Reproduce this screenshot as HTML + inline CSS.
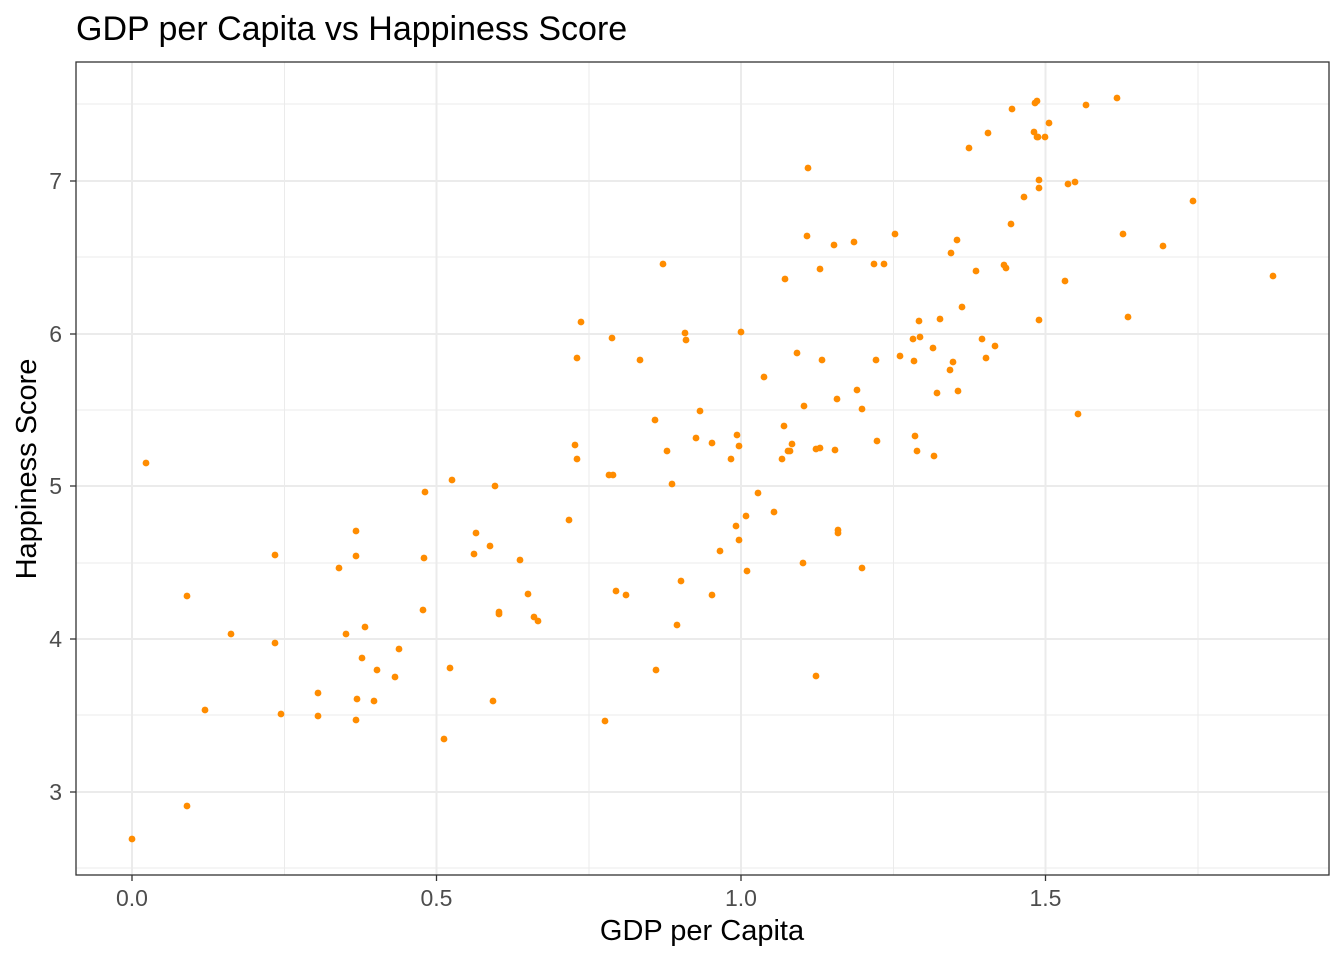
<!DOCTYPE html>
<html><head><meta charset="utf-8"><style>body{margin:0;background:#fff}svg text{font-family:"Liberation Sans",Arial,sans-serif}</style></head><body>
<svg width="1344" height="960" xmlns="http://www.w3.org/2000/svg">
<rect width="1344" height="960" fill="#fff"/>
<text x="76" y="40" font-size="34" fill="#000">GDP per Capita vs Happiness Score</text>
<g stroke="#ebebeb" stroke-width="1">
<line x1="284.5" y1="62" x2="284.5" y2="875"/><line x1="589" y1="62" x2="589" y2="875"/><line x1="893.5" y1="62" x2="893.5" y2="875"/><line x1="1198" y1="62" x2="1198" y2="875"/>
<line x1="76" y1="868" x2="1329" y2="868"/><line x1="76" y1="715" x2="1329" y2="715"/><line x1="76" y1="563" x2="1329" y2="563"/><line x1="76" y1="410" x2="1329" y2="410"/><line x1="76" y1="257" x2="1329" y2="257"/><line x1="76" y1="104" x2="1329" y2="104"/>
</g>
<g stroke="#ebebeb" stroke-width="2">
<line x1="132" y1="62" x2="132" y2="875"/><line x1="436.5" y1="62" x2="436.5" y2="875"/><line x1="741" y1="62" x2="741" y2="875"/><line x1="1045.5" y1="62" x2="1045.5" y2="875"/>
<line x1="76" y1="792" x2="1329" y2="792"/><line x1="76" y1="639" x2="1329" y2="639"/><line x1="76" y1="486" x2="1329" y2="486"/><line x1="76" y1="334" x2="1329" y2="334"/><line x1="76" y1="181" x2="1329" y2="181"/>
</g>
<g fill="#ff8c00">
<circle cx="132" cy="839" r="3.4"/><circle cx="146" cy="463" r="3.4"/><circle cx="187" cy="806" r="3.4"/><circle cx="187" cy="596" r="3.4"/><circle cx="205" cy="710" r="3.4"/><circle cx="231" cy="634" r="3.4"/><circle cx="275" cy="555" r="3.4"/><circle cx="275" cy="643" r="3.4"/><circle cx="281" cy="714" r="3.4"/><circle cx="318" cy="693" r="3.4"/><circle cx="318" cy="716" r="3.4"/><circle cx="339" cy="568" r="3.4"/><circle cx="346" cy="634" r="3.4"/><circle cx="356" cy="531" r="3.4"/><circle cx="356" cy="556" r="3.4"/><circle cx="357" cy="699" r="3.4"/><circle cx="356" cy="720" r="3.4"/><circle cx="362" cy="658" r="3.4"/><circle cx="365" cy="627" r="3.4"/><circle cx="374" cy="701" r="3.4"/><circle cx="377" cy="670" r="3.4"/><circle cx="395" cy="677" r="3.4"/><circle cx="399" cy="649" r="3.4"/><circle cx="423" cy="610" r="3.4"/><circle cx="424" cy="558" r="3.4"/><circle cx="425" cy="492" r="3.4"/><circle cx="444" cy="739" r="3.4"/><circle cx="450" cy="668" r="3.4"/><circle cx="452" cy="480" r="3.4"/><circle cx="474" cy="554" r="3.4"/><circle cx="476" cy="533" r="3.4"/><circle cx="490" cy="546" r="3.4"/><circle cx="493" cy="701" r="3.4"/><circle cx="495" cy="486" r="3.4"/><circle cx="499" cy="612" r="3.4"/><circle cx="499" cy="614" r="3.4"/><circle cx="520" cy="560" r="3.4"/><circle cx="528" cy="594" r="3.4"/><circle cx="534" cy="617" r="3.4"/><circle cx="538" cy="621" r="3.4"/><circle cx="569" cy="520" r="3.4"/><circle cx="575" cy="445" r="3.4"/><circle cx="577" cy="459" r="3.4"/><circle cx="577" cy="358" r="3.4"/><circle cx="581" cy="322" r="3.4"/><circle cx="605" cy="721" r="3.4"/><circle cx="609" cy="475" r="3.4"/><circle cx="613" cy="475" r="3.4"/><circle cx="612" cy="338" r="3.4"/><circle cx="616" cy="591" r="3.4"/><circle cx="626" cy="595" r="3.4"/><circle cx="640" cy="360" r="3.4"/><circle cx="655" cy="420" r="3.4"/><circle cx="656" cy="670" r="3.4"/><circle cx="663" cy="264" r="3.4"/><circle cx="667" cy="451" r="3.4"/><circle cx="672" cy="484" r="3.4"/><circle cx="677" cy="625" r="3.4"/><circle cx="681" cy="581" r="3.4"/><circle cx="686" cy="340" r="3.4"/><circle cx="685" cy="333" r="3.4"/><circle cx="696" cy="438" r="3.4"/><circle cx="700" cy="411" r="3.4"/><circle cx="712" cy="443" r="3.4"/><circle cx="712" cy="595" r="3.4"/><circle cx="720" cy="551" r="3.4"/><circle cx="731" cy="459" r="3.4"/><circle cx="736" cy="526" r="3.4"/><circle cx="737" cy="435" r="3.4"/><circle cx="739" cy="540" r="3.4"/><circle cx="739" cy="446" r="3.4"/><circle cx="741" cy="332" r="3.4"/><circle cx="746" cy="516" r="3.4"/><circle cx="747" cy="571" r="3.4"/><circle cx="758" cy="493" r="3.4"/><circle cx="764" cy="377" r="3.4"/><circle cx="774" cy="512" r="3.4"/><circle cx="782" cy="459" r="3.4"/><circle cx="784" cy="426" r="3.4"/><circle cx="785" cy="279" r="3.4"/><circle cx="788" cy="451" r="3.4"/><circle cx="790" cy="451" r="3.4"/><circle cx="792" cy="444" r="3.4"/><circle cx="797" cy="353" r="3.4"/><circle cx="803" cy="563" r="3.4"/><circle cx="804" cy="406" r="3.4"/><circle cx="808" cy="168" r="3.4"/><circle cx="807" cy="236" r="3.4"/><circle cx="816" cy="676" r="3.4"/><circle cx="816" cy="449" r="3.4"/><circle cx="820" cy="448" r="3.4"/><circle cx="820" cy="269" r="3.4"/><circle cx="822" cy="360" r="3.4"/><circle cx="834" cy="245" r="3.4"/><circle cx="835" cy="450" r="3.4"/><circle cx="837" cy="399" r="3.4"/><circle cx="838" cy="533" r="3.4"/><circle cx="838" cy="530" r="3.4"/><circle cx="854" cy="242" r="3.4"/><circle cx="857" cy="390" r="3.4"/><circle cx="862" cy="409" r="3.4"/><circle cx="862" cy="568" r="3.4"/><circle cx="874" cy="264" r="3.4"/><circle cx="876" cy="360" r="3.4"/><circle cx="877" cy="441" r="3.4"/><circle cx="884" cy="264" r="3.4"/><circle cx="895" cy="234" r="3.4"/><circle cx="900" cy="356" r="3.4"/><circle cx="913" cy="339" r="3.4"/><circle cx="915" cy="436" r="3.4"/><circle cx="914" cy="361" r="3.4"/><circle cx="917" cy="451" r="3.4"/><circle cx="919" cy="321" r="3.4"/><circle cx="920" cy="337" r="3.4"/><circle cx="933" cy="348" r="3.4"/><circle cx="934" cy="456" r="3.4"/><circle cx="937" cy="393" r="3.4"/><circle cx="940" cy="319" r="3.4"/><circle cx="950" cy="370" r="3.4"/><circle cx="951" cy="253" r="3.4"/><circle cx="953" cy="362" r="3.4"/><circle cx="957" cy="240" r="3.4"/><circle cx="958" cy="391" r="3.4"/><circle cx="962" cy="307" r="3.4"/><circle cx="969" cy="148" r="3.4"/><circle cx="976" cy="271" r="3.4"/><circle cx="982" cy="339" r="3.4"/><circle cx="986" cy="358" r="3.4"/><circle cx="988" cy="133" r="3.4"/><circle cx="995" cy="346" r="3.4"/><circle cx="1004" cy="265" r="3.4"/><circle cx="1006" cy="268" r="3.4"/><circle cx="1011" cy="224" r="3.4"/><circle cx="1012" cy="109" r="3.4"/><circle cx="1024" cy="197" r="3.4"/><circle cx="1034" cy="132" r="3.4"/><circle cx="1035" cy="103" r="3.4"/><circle cx="1037" cy="101" r="3.4"/><circle cx="1037" cy="137" r="3.4"/><circle cx="1039" cy="180" r="3.4"/><circle cx="1039" cy="188" r="3.4"/><circle cx="1039" cy="320" r="3.4"/><circle cx="1045" cy="137" r="3.4"/><circle cx="1049" cy="123" r="3.4"/><circle cx="1038" cy="137" r="3.4"/><circle cx="1065" cy="281" r="3.4"/><circle cx="1068" cy="184" r="3.4"/><circle cx="1075" cy="182" r="3.4"/><circle cx="1078" cy="414" r="3.4"/><circle cx="1086" cy="105" r="3.4"/><circle cx="1117" cy="98" r="3.4"/><circle cx="1123" cy="234" r="3.4"/><circle cx="1128" cy="317" r="3.4"/><circle cx="1163" cy="246" r="3.4"/><circle cx="1193" cy="201" r="3.4"/><circle cx="1273" cy="276" r="3.4"/>
</g>
<rect x="76" y="62" width="1253" height="813" fill="none" stroke="#333" stroke-width="1.3"/>
<g stroke="#333" stroke-width="1.3">
<line x1="132" y1="875" x2="132" y2="881"/><line x1="436.5" y1="875" x2="436.5" y2="881"/><line x1="741" y1="875" x2="741" y2="881"/><line x1="1045.5" y1="875" x2="1045.5" y2="881"/>
<line x1="70" y1="792" x2="76" y2="792"/><line x1="70" y1="639" x2="76" y2="639"/><line x1="70" y1="486" x2="76" y2="486"/><line x1="70" y1="334" x2="76" y2="334"/><line x1="70" y1="181" x2="76" y2="181"/>
</g>
<g font-size="23" fill="#4d4d4d" text-anchor="middle">
<text x="132" y="906">0.0</text><text x="436.5" y="906">0.5</text><text x="741" y="906">1.0</text><text x="1045.5" y="906">1.5</text>
</g>
<g font-size="23" fill="#4d4d4d" text-anchor="end">
<text x="62" y="800">3</text><text x="62" y="647">4</text><text x="62" y="494">5</text><text x="62" y="342">6</text><text x="62" y="189">7</text>
</g>
<text x="702" y="940" font-size="29" text-anchor="middle" fill="#000">GDP per Capita</text>
<text transform="translate(36,469) rotate(-90)" font-size="29" text-anchor="middle" fill="#000">Happiness Score</text>
</svg>
</body></html>
